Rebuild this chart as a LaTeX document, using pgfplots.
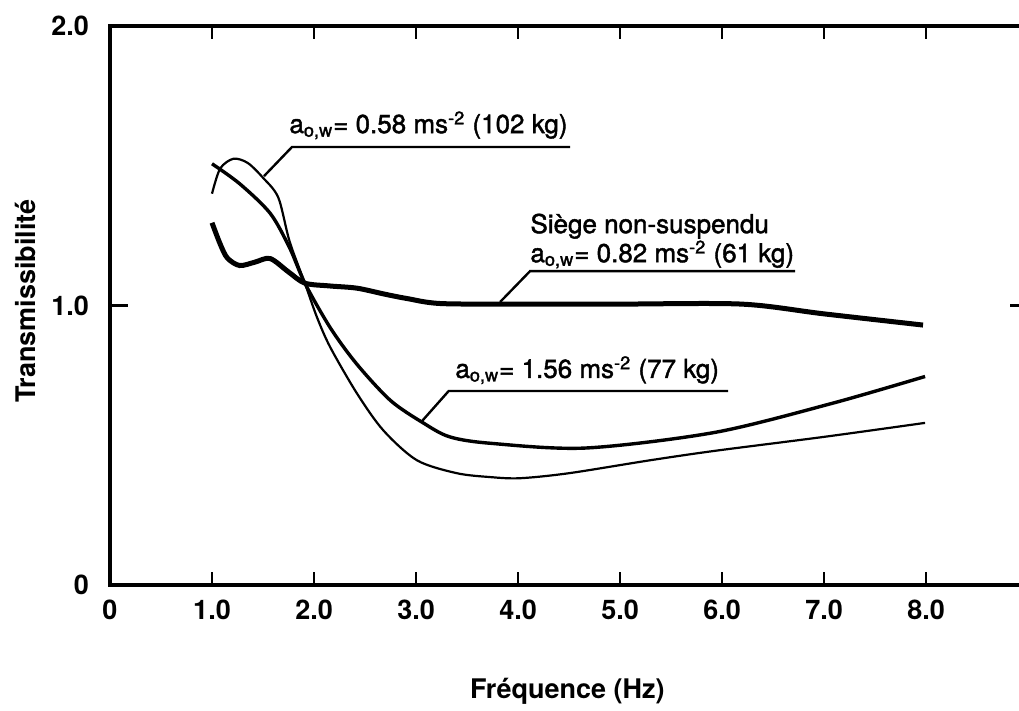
\documentclass[border=0pt]{standalone}
\usepackage{pgfplots}
\pgfplotsset{compat=1.18}
\usepackage{pgfplotstable}
\usepackage{fontspec}
\setmainfont{TeX Gyre Heros}
\newfontfamily\annotfont{TeX Gyre Heros}[FakeBold=1.6]

\pgfplotstableread{
x y
1.00 1.296
1.08 1.22
1.15 1.17
1.27 1.143
1.42 1.155
1.57 1.168
1.75 1.12
1.91 1.08
2.15 1.07
2.42 1.062
2.70 1.04
2.91 1.025
3.24 1.007
4.00 1.005
5.00 1.005
6.19 1.005
7.00 0.97
7.97 0.93
}\siege

\pgfplotstableread{
x y
1.00 1.40
1.08 1.49
1.21 1.525
1.35 1.51
1.50 1.457
1.65 1.386
1.76 1.23
1.91 1.08
2.03 0.957
2.16 0.85
2.42 0.686
2.68 0.553
3.01 0.446
3.40 0.40
3.73 0.386
4.02 0.382
4.50 0.40
5.29 0.446
5.93 0.48
7.00 0.53
7.99 0.58
}\kgA

\pgfplotstableread{
x y
1.00 1.507
1.27 1.436
1.57 1.33
1.76 1.207
1.91 1.08
2.16 0.92
2.42 0.79
2.75 0.66
3.07 0.58
3.33 0.53
3.73 0.507
4.66 0.49
5.93 0.546
7.08 0.65
7.99 0.746
}\kgB

\begin{document}
\begin{tikzpicture}
\useasboundingbox (-55pt,-63pt) rectangle (454.5pt,292.5pt);
\begin{axis}[
  scale only axis,
  width=456.5pt, height=279.5pt,
  xmin=0, xmax=8.95, ymin=0, ymax=2,
  axis line style={line width=1.6pt},
  xtick={0,1,2,3,4,5,6,7,8},
  xticklabels={0,1.0,2.0,3.0,4.0,5.0,6.0,7.0,8.0},
  ytick={0,1,2},
  yticklabels={0,1.0,2.0},
  xtick pos=both, ytick pos=both,
  tick align=inside,
  major tick length=6.5pt,
  every tick/.style={black, line width=1.4pt},
  ticklabel style={font=\bfseries\fontsize{13.5}{15}\selectfont},
  xticklabel style={yshift=-4pt},
  yticklabel style={xshift=-7pt},
  xlabel={Fréquence (Hz)},
  ylabel={Transmissibilité},
  label style={font=\bfseries\fontsize{13.5}{15}\selectfont},
  xlabel style={at={(axis description cs:0.501,-0.191)}, anchor=center},
  ylabel style={at={(axis description cs:-0.093,0.508)}, anchor=center},
  clip=false,
]
\addplot[black, line width=2.5pt, smooth, tension=0.5] table[x=x,y=y] {\siege};
\addplot[black, line width=1.1pt, smooth, tension=0.5] table[x=x,y=y] {\kgA};
\addplot[black, line width=1.7pt, smooth, tension=0.5] table[x=x,y=y] {\kgB};

% tick marks drawn explicitly (inward), both ends in axis units
\pgfplotsinvokeforeach{1,2,3,4,5,6,7,8}{
  \draw[line width=1.4pt] (axis cs:#1,0) -- (axis cs:#1,0.045);
  \draw[line width=1.4pt] (axis cs:#1,2) -- (axis cs:#1,1.955);
}
\draw[line width=1.4pt] (axis cs:0,1) -- (axis cs:0.18,1);
\draw[line width=1.4pt] (axis cs:8.95,1) -- (axis cs:8.82,1);

% annotations
\begin{scope}[every node/.style={font=\annotfont\fontsize{13}{15}\selectfont, inner sep=0pt}]
\node[anchor=base west] at (axis cs:1.755,1.617) {a\textsubscript{o,w}= 0.58 ms\textsuperscript{-2} (102 kg)};
\draw[line width=1.2pt] (axis cs:1.51,1.463) -- (axis cs:1.784,1.567) -- (axis cs:4.51,1.567);

\node[anchor=base west] at (axis cs:4.118,1.259) {Siège non-suspendu};
\node[anchor=base west] at (axis cs:4.118,1.155) {a\textsubscript{o,w}= 0.82 ms\textsuperscript{-2} (61 kg)};
\draw[line width=1.2pt] (axis cs:3.824,1.0125) -- (axis cs:4.118,1.123) -- (axis cs:6.716,1.123);

\node[anchor=base west] at (axis cs:3.382,0.741) {a\textsubscript{o,w}= 1.56 ms\textsuperscript{-2} (77 kg)};
\draw[line width=1.2pt] (axis cs:3.06,0.587) -- (axis cs:3.32,0.694) -- (axis cs:6.06,0.694);
\end{scope}
\end{axis}
\end{tikzpicture}
\end{document}
